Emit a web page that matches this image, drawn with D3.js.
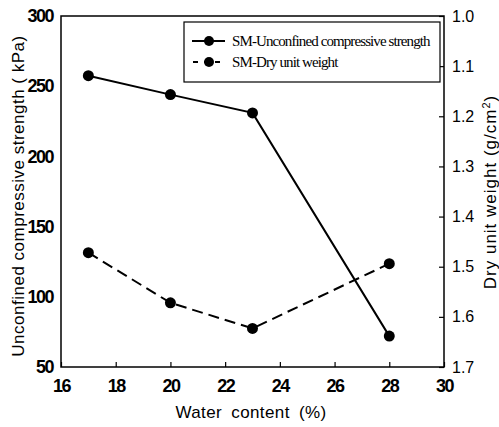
<!DOCTYPE html>
<html><head><meta charset="utf-8">
<script src="https://cdn.jsdelivr.net/npm/d3@7"></script>
<style>body{margin:0;background:#fff}svg{display:block}</style>
</head><body><svg id="c" width="499" height="427"></svg>
<script>
const waterContent = [17, 20, 23, 28];
const strength = [257.5, 244, 231, 72];
const dryUnitWeight = [1.472, 1.572, 1.623, 1.494];
const xTicks = [16, 18, 20, 22, 24, 26, 28, 30];
const yLeftTicks = [50, 100, 150, 200, 250, 300];
const yRightTicks = [1.0, 1.1, 1.2, 1.3, 1.4, 1.5, 1.6, 1.7];
const seriesNames = ["SM-Unconfined compressive strength", "SM-Dry unit weight"];

const svg = d3.select("#c");
const L = 61, R = 444, T = 16, B = 367;
const x = d3.scaleLinear().domain([16, 30]).range([L, R]);
const yL = d3.scaleLinear().domain([50, 300]).range([B, T]);
const yR = d3.scaleLinear().domain([1.7, 1.0]).range([B, T]);

const numFont = "'Liberation Sans Narrow', 'Liberation Sans', Arial, sans-serif";
const sans = "'Liberation Sans', Arial, sans-serif";

// frame
svg.append("rect").attr("x", L).attr("y", T).attr("width", R - L).attr("height", B - T)
  .attr("fill", "none").attr("stroke", "#000").attr("stroke-width", 1.5);

// x axis
const gx = svg.append("g").attr("transform", `translate(0,${B})`)
  .call(d3.axisBottom(x).tickValues(xTicks).tickSizeInner(-5).tickSizeOuter(0).tickPadding(12));
gx.select(".domain").remove();
gx.selectAll("line").attr("stroke", "#000").attr("stroke-width", 1.2);
gx.selectAll("text").attr("font-family", numFont).attr("font-size", 18).attr("font-weight", "bold")
  .attr("letter-spacing", -1.5).attr("fill", "#000");

// left axis
const gl = svg.append("g").attr("transform", `translate(${L},0)`)
  .call(d3.axisLeft(yL).tickValues(yLeftTicks).tickSize(0).tickPadding(8));
gl.select(".domain").remove();
gl.selectAll("text").attr("font-family", numFont).attr("font-size", 18).attr("font-weight", "bold")
  .attr("letter-spacing", -1.5).attr("fill", "#000");

// right axis
const gr = svg.append("g").attr("transform", `translate(${R},0)`)
  .call(d3.axisRight(yR).tickValues(yRightTicks).tickFormat(d3.format(".1f")).tickSizeInner(-5).tickSizeOuter(0).tickPadding(8));
gr.select(".domain").remove();
gr.selectAll("line").attr("stroke", "#000").attr("stroke-width", 1.2);
gr.selectAll("text").attr("font-family", sans).attr("font-size", 16).attr("fill", "#000");

// titles
svg.append("text").attr("x", 251).attr("y", 418).attr("text-anchor", "middle")
  .attr("font-family", sans).attr("font-size", 17).attr("letter-spacing", 0.4).attr("word-spacing", 4)
  .text("Water content (%)");
svg.append("text").attr("transform", "translate(24,196) rotate(-90)").attr("text-anchor", "middle")
  .attr("font-family", sans).attr("font-size", 17).attr("letter-spacing", 0.5)
  .text("Unconfined compressive strength ( kPa)");
const rt = svg.append("text").attr("transform", "translate(496,192) rotate(-90)").attr("text-anchor", "middle")
  .attr("font-family", sans).attr("font-size", 17).attr("letter-spacing", 1);
rt.append("tspan").text("Dry unit weight (g/cm");
rt.append("tspan").attr("dy", -6).attr("font-size", 11).text("2");
rt.append("tspan").attr("dy", 6).text(")");

// series
const line1 = d3.line().x((d, i) => x(waterContent[i])).y(d => yL(d));
const line2 = d3.line().x((d, i) => x(waterContent[i])).y(d => yR(d));
svg.append("path").attr("d", line1(strength)).attr("fill", "none").attr("stroke", "#000").attr("stroke-width", 2);
svg.append("path").attr("d", line2(dryUnitWeight)).attr("fill", "none").attr("stroke", "#000").attr("stroke-width", 2)
  .attr("stroke-dasharray", "11,6");
svg.append("g").selectAll("circle").data(strength).join("circle")
  .attr("cx", (d, i) => x(waterContent[i])).attr("cy", d => yL(d)).attr("r", 5.5).attr("fill", "#000");
svg.append("g").selectAll("circle").data(dryUnitWeight).join("circle")
  .attr("cx", (d, i) => x(waterContent[i])).attr("cy", d => yR(d)).attr("r", 5.5).attr("fill", "#000");

// legend
const lg = svg.append("g");
lg.append("rect").attr("x", 184).attr("y", 22).attr("width", 256).attr("height", 60)
  .attr("fill", "#fff").attr("stroke", "#000").attr("stroke-width", 1.2);
const rows = [41, 62];
seriesNames.forEach((name, i) => {
  lg.append("line").attr("x1", i === 0 ? 192 : 193).attr("x2", 225).attr("y1", rows[i]).attr("y2", rows[i])
    .attr("stroke", "#000").attr("stroke-width", 2).attr("stroke-dasharray", i === 0 ? null : "5,6");
  lg.append("circle").attr("cx", 209).attr("cy", rows[i]).attr("r", 5).attr("fill", "#000");
  lg.append("text").attr("x", 232).attr("y", rows[i] + 5)
    .attr("font-family", "'Liberation Serif', 'Times New Roman', serif").attr("font-size", 15)
    .attr("letter-spacing", -0.9).text(name);
});
</script></body></html>
